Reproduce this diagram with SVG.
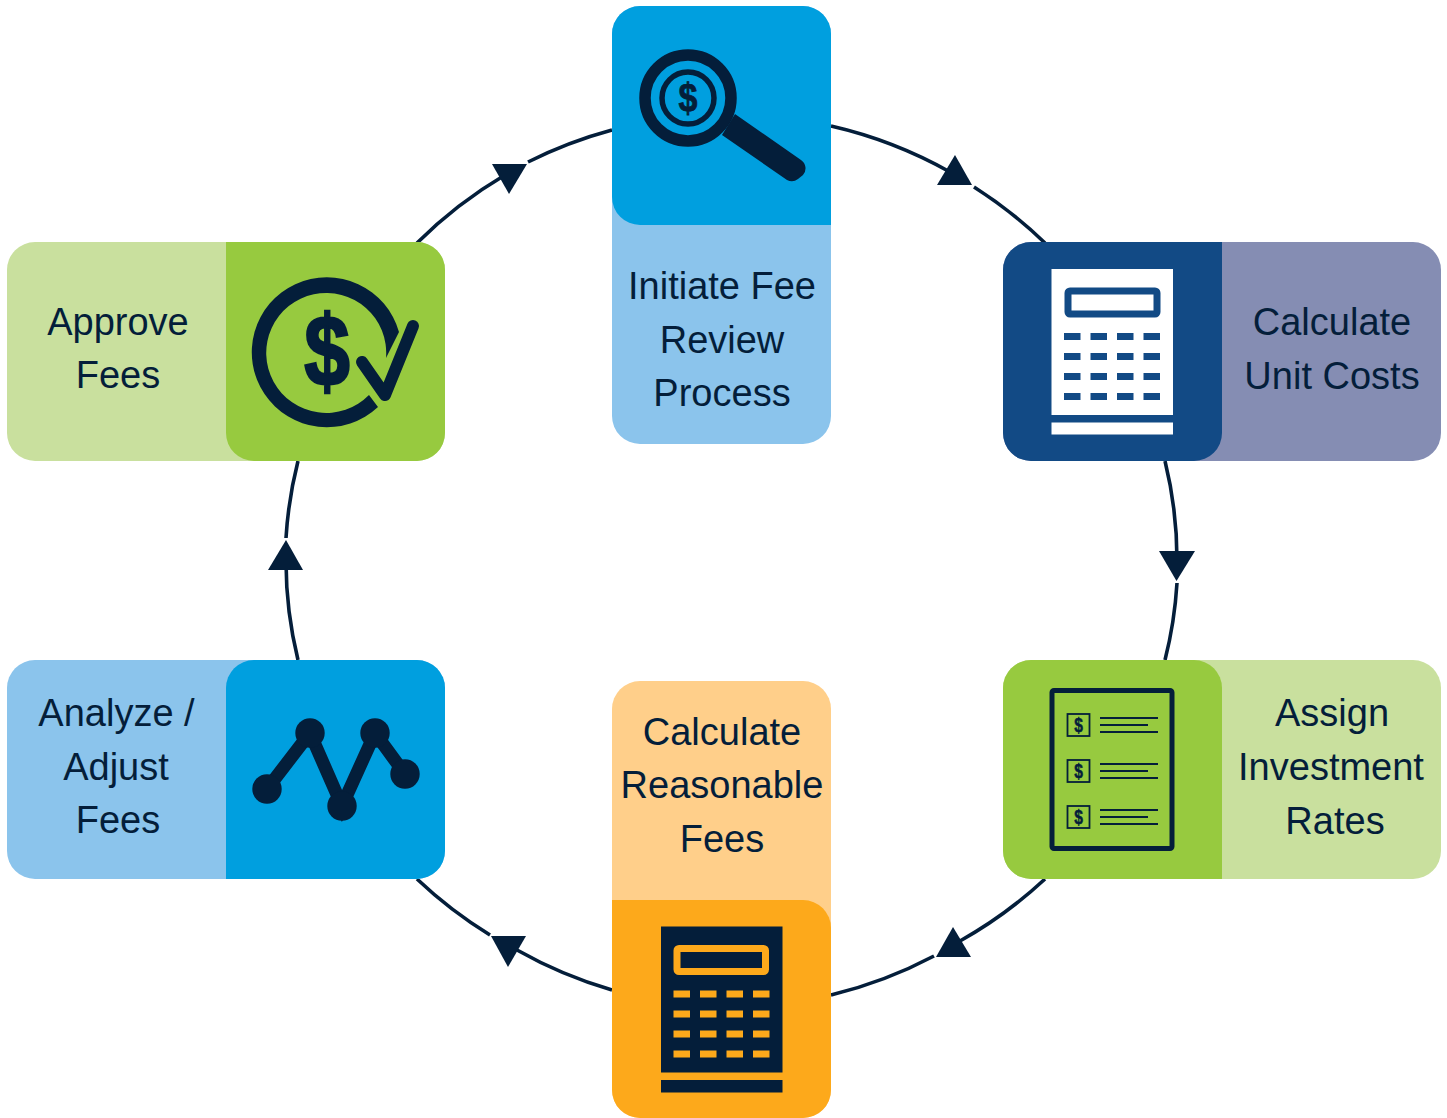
<svg xmlns="http://www.w3.org/2000/svg" width="1447" height="1118" viewBox="0 0 1447 1118">
<style>
text{font-family:"Liberation Sans",Arial,sans-serif;font-size:38px;fill:#041E3A;text-anchor:middle}
.ink{fill:#041E3A}
.arc{fill:none;stroke:#041E3A;stroke-width:3.6}
.big{font-weight:bold;stroke:#041E3A}
</style>
<rect width="1447" height="1118" fill="#fff"/>
<g id="connectors">
<path class="arc" d="M831 126A445 445 0 0 1 950 172"/>
<path class="arc" d="M974 187A445 445 0 0 1 1045 243"/>
<path class="arc" d="M1165 461A415 415 0 0 1 1177 560"/>
<path class="arc" d="M1177 583A415 415 0 0 1 1165 660"/>
<path class="arc" d="M1045 879A445 445 0 0 1 960 941"/>
<path class="arc" d="M934 956A445 445 0 0 1 831 995"/>
<path class="arc" d="M612 990A445 445 0 0 1 517 950"/>
<path class="arc" d="M490 935A445 445 0 0 1 417 879"/>
<path class="arc" d="M298 660A415 415 0 0 1 286 562"/>
<path class="arc" d="M286 538A415 415 0 0 1 298 461"/>
<path class="arc" d="M417 243A445 445 0 0 1 505 175"/>
<path class="arc" d="M528 162A445 445 0 0 1 612 130"/>
<polygon class="ink" points="955,155 937,185 972,185"/>
<polygon class="ink" points="1159,551 1195,551 1176.500,581"/>
<polygon class="ink" points="953,927 936,957 971,957"/>
<polygon class="ink" points="491,936 526,936 508,967"/>
<polygon class="ink" points="286,540 268,570 303,570"/>
<polygon class="ink" points="492,164 527,164 509,194"/>
</g>
<g id="node-initiate">
<rect x="612" y="6" width="219" height="438" rx="28" fill="#8BC4EC"/>
<path d="M640 6H803A28 28 0 0 1 831 34V225H640A28 28 0 0 1 612 197V34A28 28 0 0 1 640 6Z" fill="#009FDF"/>
<circle cx="688" cy="98" r="43" fill="none" stroke="#041E3A" stroke-width="11.500"/>
<circle cx="688" cy="98" r="26" fill="none" stroke="#041E3A" stroke-width="5.500"/>
<path class="ink" d="M722 135L735 114L801 160A10 10 0 0 1 803 175L798 179A10 10 0 0 1 787 180Z"/>
<text class="big" transform="translate(688 112) scale(.85 1)" style="font-size:40px" stroke-width="0.800">$</text>
<text x="722" y="299">Initiate Fee</text>
<text x="722" y="353">Review</text>
<text x="722" y="406">Process</text>
</g>
<g id="node-unit-costs">
<rect x="1003" y="242" width="438" height="219" rx="28" fill="#858DB3"/>
<path d="M1031 242H1222V433A28 28 0 0 1 1194 461H1031A28 28 0 0 1 1003 433V270A28 28 0 0 1 1031 242Z" fill="#124A85"/>
<rect x="1051.500" y="269" width="121.500" height="146" fill="#fff"/>
<rect x="1051.500" y="422.500" width="121.500" height="12" fill="#fff"/>
<rect x="1068" y="291" width="89" height="23" rx="2" fill="#fff" stroke="#124A85" stroke-width="7"/>
<g fill="#124A85">
<rect x="1064" y="333" width="16.500" height="7"/><rect x="1090.500" y="333" width="16.500" height="7"/><rect x="1117" y="333" width="16.500" height="7"/><rect x="1143.500" y="333" width="16.500" height="7"/>
<rect x="1064" y="353" width="16.500" height="7"/><rect x="1090.500" y="353" width="16.500" height="7"/><rect x="1117" y="353" width="16.500" height="7"/><rect x="1143.500" y="353" width="16.500" height="7"/>
<rect x="1064" y="373" width="16.500" height="7"/><rect x="1090.500" y="373" width="16.500" height="7"/><rect x="1117" y="373" width="16.500" height="7"/><rect x="1143.500" y="373" width="16.500" height="7"/>
<rect x="1064" y="393" width="16.500" height="7"/><rect x="1090.500" y="393" width="16.500" height="7"/><rect x="1117" y="393" width="16.500" height="7"/><rect x="1143.500" y="393" width="16.500" height="7"/>
</g>
<text x="1332" y="335">Calculate</text>
<text x="1332" y="389">Unit Costs</text>
</g>
<g id="node-investment">
<rect x="1003" y="660" width="438" height="219" rx="28" fill="#C9E09E"/>
<path d="M1031 660H1194A28 28 0 0 1 1222 688V879H1031A28 28 0 0 1 1003 851V688A28 28 0 0 1 1031 660Z" fill="#97CA3F"/>
<rect x="1052" y="690.500" width="120" height="158" rx="2" fill="none" stroke="#041E3A" stroke-width="5"/>
<g fill="none" stroke="#041E3A" stroke-width="1.800">
<rect x="1067.500" y="714" width="22" height="22"/><rect x="1067.500" y="760" width="22" height="22"/><rect x="1067.500" y="806" width="22" height="22"/>
<path d="M1100 718H1158M1100 725H1148M1100 732H1158M1100 764H1158M1100 771H1148M1100 778H1158M1100 810H1158M1100 817H1148M1100 824H1158"/>
</g>
<text class="big" transform="translate(1078.500 732) scale(.78 1)" style="font-size:20px" stroke-width="0.500">$</text>
<text class="big" transform="translate(1078.500 778) scale(.78 1)" style="font-size:20px" stroke-width="0.500">$</text>
<text class="big" transform="translate(1078.500 824) scale(.78 1)" style="font-size:20px" stroke-width="0.500">$</text>
<text x="1332" y="726">Assign</text>
<text x="1331" y="780">Investment</text>
<text x="1335" y="834">Rates</text>
</g>
<g id="node-reasonable">
<rect x="612" y="681" width="219" height="437" rx="28" fill="#FFCF8A"/>
<path d="M612 900H803A28 28 0 0 1 831 928V1090A28 28 0 0 1 803 1118H640A28 28 0 0 1 612 1090Z" fill="#FDA91B"/>
<rect x="661" y="926.500" width="121.500" height="146" fill="#041E3A"/>
<rect x="661" y="1080" width="121.500" height="12.500" fill="#041E3A"/>
<rect x="677" y="948.500" width="88.500" height="23" rx="2" fill="#041E3A" stroke="#FDA91B" stroke-width="7"/>
<g fill="#FDA91B">
<rect x="673.500" y="990.500" width="16.500" height="7"/><rect x="700" y="990.500" width="16.500" height="7"/><rect x="726.500" y="990.500" width="16.500" height="7"/><rect x="753" y="990.500" width="16.500" height="7"/>
<rect x="673.500" y="1010.500" width="16.500" height="7"/><rect x="700" y="1010.500" width="16.500" height="7"/><rect x="726.500" y="1010.500" width="16.500" height="7"/><rect x="753" y="1010.500" width="16.500" height="7"/>
<rect x="673.500" y="1030.500" width="16.500" height="7"/><rect x="700" y="1030.500" width="16.500" height="7"/><rect x="726.500" y="1030.500" width="16.500" height="7"/><rect x="753" y="1030.500" width="16.500" height="7"/>
<rect x="673.500" y="1050.500" width="16.500" height="7"/><rect x="700" y="1050.500" width="16.500" height="7"/><rect x="726.500" y="1050.500" width="16.500" height="7"/><rect x="753" y="1050.500" width="16.500" height="7"/>
</g>
<text x="722" y="745">Calculate</text>
<text x="722" y="798">Reasonable</text>
<text x="722" y="852">Fees</text>
</g>
<g id="node-analyze">
<rect x="7" y="660" width="438" height="219" rx="28" fill="#8BC4EC"/>
<path d="M254 660H417A28 28 0 0 1 445 688V851A28 28 0 0 1 417 879H226V688A28 28 0 0 1 254 660Z" fill="#009FDF"/>
<path d="M267 789L310 733L342 806L375 733L405 774" fill="none" stroke="#041E3A" stroke-width="13"/>
<circle class="ink" cx="267" cy="789" r="14.700"/><circle class="ink" cx="310" cy="733" r="14.700"/><circle class="ink" cx="342" cy="806" r="14.700"/><circle class="ink" cx="375" cy="733" r="14.700"/><circle class="ink" cx="405" cy="774" r="14.700"/>
<text x="116.500" y="726">Analyze /</text>
<text x="116" y="780">Adjust</text>
<text x="118" y="833">Fees</text>
</g>
<g id="node-approve">
<rect x="7" y="242" width="438" height="219" rx="28" fill="#C9E09E"/>
<path d="M226 242H417A28 28 0 0 1 445 270V433A28 28 0 0 1 417 461H254A28 28 0 0 1 226 433Z" fill="#97CA3F"/>
<path class="ink" d="M399 332A75 75 0 1 0 378 407L369 395A60 60 0 1 1 386 358Z"/>
<path d="M362 362L385 395L413 326" fill="none" stroke="#041E3A" stroke-width="12" stroke-linecap="round" stroke-linejoin="round"/>
<text class="big" transform="translate(327 386) scale(.82 1)" style="font-size:100px" stroke-width="2.500">$</text>
<text x="118" y="335">Approve</text>
<text x="118" y="388">Fees</text>
</g>
</svg>
